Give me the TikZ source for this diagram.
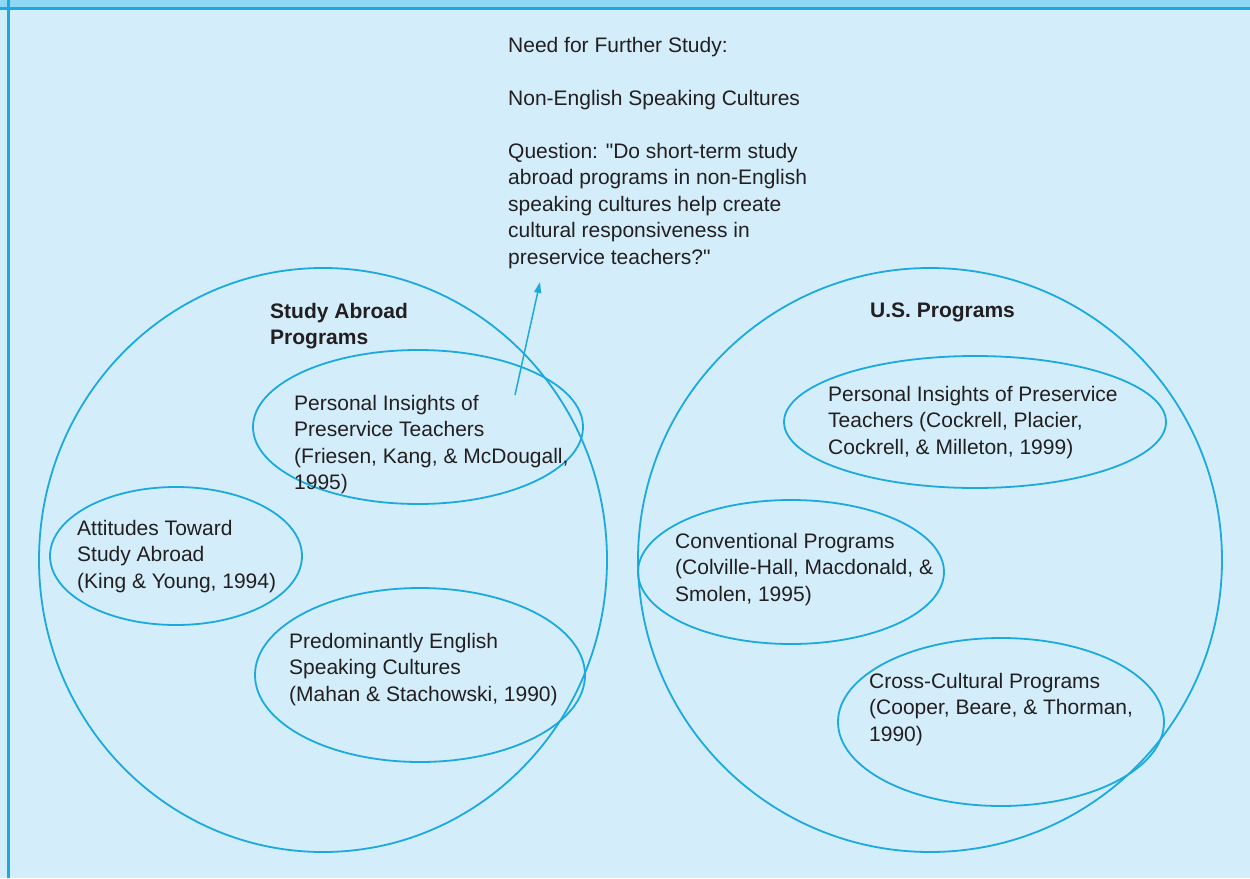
\documentclass[tikz,border=0pt]{standalone}
\usepackage{fontspec}
\setmainfont{Liberation Sans}
\usetikzlibrary{arrows.meta}
\definecolor{bgblue}{RGB}{211,238,250}
\definecolor{bandblue}{RGB}{142,216,245}
\definecolor{lineblue}{RGB}{27,169,224}
\definecolor{inkgray}{RGB}{35,31,32}

\begin{document}
\begin{tikzpicture}[x=1pt,y=-1pt,
	ring/.style={draw=lineblue, line width=1.8pt},
	txt/.style={anchor=north west, inner sep=0pt, align=left, text=inkgray, font=\fontsize{21}{26.5}\selectfont},
	head/.style={txt, font=\fontsize{21}{26.5}\selectfont\bfseries}]
	\useasboundingbox (0,0) rectangle (1250,878);
	\fill[bgblue] (0,0) rectangle (1250,878);
	\fill[bandblue] (0,0) rectangle (1250,8);
	\draw[lineblue, line width=3pt] (0,8.5) -- (1250,8.5);
	\draw[lineblue, line width=3pt] (8.5,0) -- (8.5,878);
	% the two large groups
	\draw[ring] (323,560) ellipse (284 and 292);
	\draw[ring] (930,560) ellipse (292 and 292);
	% inner ellipses, left
	\draw[ring] (418,427) ellipse (165 and 77);
	\draw[ring] (176,556) ellipse (126 and 69);
	\draw[ring] (420,675) ellipse (165 and 87);
	% inner ellipses, right
	\draw[ring] (975,422) ellipse (191 and 66);
	\draw[ring] (791,572) ellipse (153 and 72);
	\draw[ring] (1001,722) ellipse (163 and 84);
	% texts
	\node[txt] (further) at (508,37) {Need for Further Study:\\[26.5pt]Non-English Speaking Cultures\\[26.5pt]Question: \textquotedbl Do short-term study\\abroad programs in non-English\\speaking cultures help create\\cultural responsiveness in\\preservice teachers?\textquotedbl};
	\node[head] (abroad) at (270,303) {Study Abroad\\Programs};
	\node[head] (usprog) at (870,303) {U.S. Programs};
	\node[txt] (insightL) at (294,395) {Personal Insights of\\Preservice Teachers\\(Friesen, Kang, \& McDougall,\\1995)};
	\node[txt] (attitude) at (77,520) {Attitudes Toward\\Study Abroad\\(King \& Young, 1994)};
	\node[txt] (english) at (289,633) {Predominantly English\\Speaking Cultures\\(Mahan \& Stachowski, 1990)};
	\node[txt] (insightR) at (828,386) {Personal Insights of Preservice\\Teachers (Cockrell, Placier,\\Cockrell, \& Milleton, 1999)};
	\node[txt] (convent) at (675,533) {Conventional Programs\\(Colville-Hall, Macdonald, \&\\Smolen, 1995)};
	\node[txt] (crosscult) at (869,673) {Cross-Cultural Programs\\(Cooper, Beare, \& Thorman,\\1990)};
	% arrow out of the insight ellipse
	\coordinate (tail) at (515,395);
	\coordinate (tip) at (540,282);
	\draw[lineblue, line width=1.5pt, -{Triangle[length=11pt,width=7pt]}] (tail) -- (tip);
\end{tikzpicture}
\end{document}
